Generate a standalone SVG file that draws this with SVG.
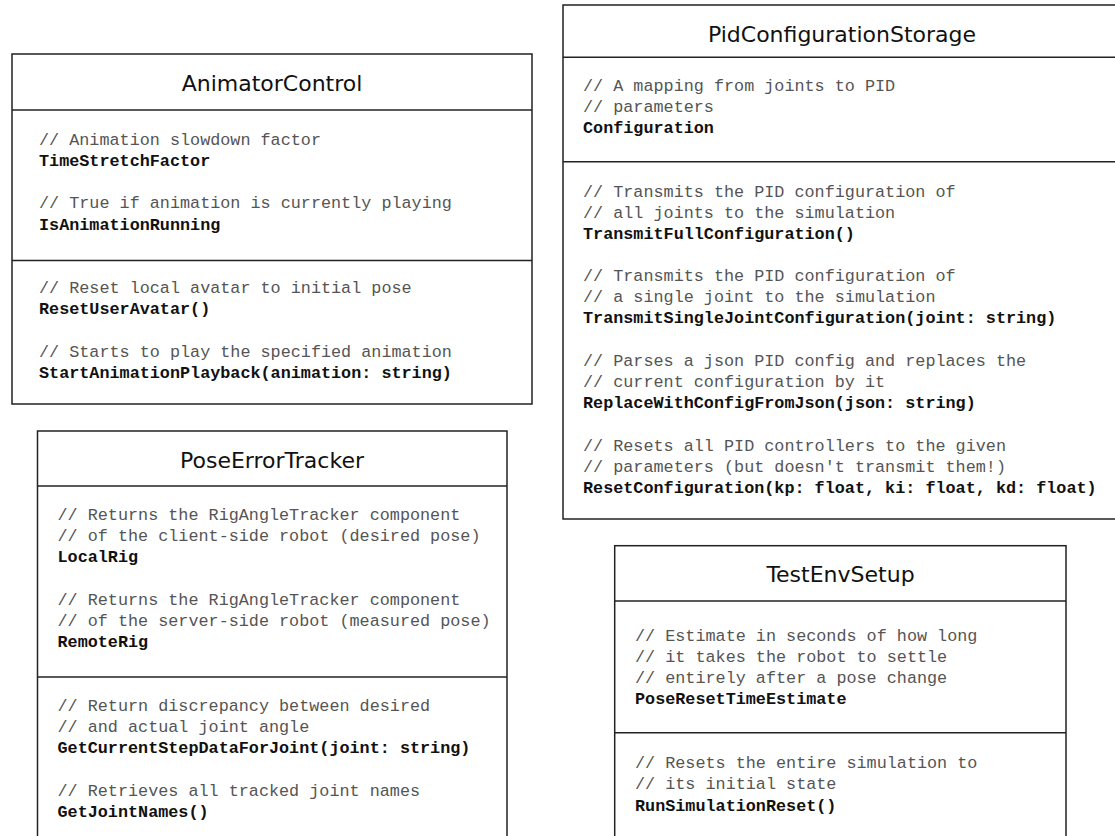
<svg xmlns="http://www.w3.org/2000/svg" width="1115" height="836" viewBox="0 0 1115 836">
<style>
.box{fill:#fff;stroke:#222;stroke-width:1.5}
.sep{stroke:#222;stroke-width:1.5}
.title{font-family:"DejaVu Sans",Verdana,sans-serif;font-size:22px;fill:#111;text-anchor:middle}
.c{font-family:"Liberation Mono","Courier New",monospace;font-size:16.8px;fill:#555}
.n{font-family:"Liberation Mono","Courier New",monospace;font-size:16.8px;font-weight:bold;fill:#111}
</style>
<rect width="1115" height="836" fill="#fff"/>
<g id="connectors"/>
<g id="AnimatorControl">
<rect class="box" x="12" y="54" width="520" height="350"/>
<line class="sep" x1="12" y1="110" x2="532" y2="110"/>
<line class="sep" x1="12" y1="260.5" x2="532" y2="260.5"/>
<text class="title" x="272" y="91">AnimatorControl</text>
<text class="c" x="39" y="145">// Animation slowdown factor</text>
<text class="n" x="39" y="166">TimeStretchFactor</text>
<text class="c" x="39" y="208">// True if animation is currently playing</text>
<text class="n" x="39" y="229.5">IsAnimationRunning</text>
<text class="c" x="39" y="293">// Reset local avatar to initial pose</text>
<text class="n" x="39" y="314">ResetUserAvatar()</text>
<text class="c" x="39" y="357">// Starts to play the specified animation</text>
<text class="n" x="39" y="378">StartAnimationPlayback(animation: string)</text>
</g>
<g id="PoseErrorTracker">
<rect class="box" x="37.5" y="431" width="469.5" height="420"/>
<line class="sep" x1="37.5" y1="486" x2="507" y2="486"/>
<line class="sep" x1="37.5" y1="677" x2="507" y2="677"/>
<text class="title" x="272" y="468">PoseErrorTracker</text>
<text class="c" x="57.5" y="520">// Returns the RigAngleTracker component</text>
<text class="c" x="57.5" y="541">// of the client-side robot (desired pose)</text>
<text class="n" x="57.5" y="562">LocalRig</text>
<text class="c" x="57.5" y="605">// Returns the RigAngleTracker component</text>
<text class="c" x="57.5" y="626">// of the server-side robot (measured pose)</text>
<text class="n" x="57.5" y="647">RemoteRig</text>
<text class="c" x="57.5" y="711">// Return discrepancy between desired</text>
<text class="c" x="57.5" y="732">// and actual joint angle</text>
<text class="n" x="57.5" y="753">GetCurrentStepDataForJoint(joint: string)</text>
<text class="c" x="57.5" y="796">// Retrieves all tracked joint names</text>
<text class="n" x="57.5" y="817">GetJointNames()</text>
</g>
<g id="PidConfigurationStorage">
<rect class="box" x="563" y="5" width="558" height="514"/>
<line class="sep" x1="563" y1="57.3" x2="1121" y2="57.3"/>
<line class="sep" x1="563" y1="161.7" x2="1121" y2="161.7"/>
<text class="title" x="842" y="42">PidConfigurationStorage</text>
<text class="c" x="583" y="91">// A mapping from joints to PID</text>
<text class="c" x="583" y="112">// parameters</text>
<text class="n" x="583" y="133">Configuration</text>
<text class="c" x="583" y="197">// Transmits the PID configuration of</text>
<text class="c" x="583" y="218">// all joints to the simulation</text>
<text class="n" x="583" y="239">TransmitFullConfiguration()</text>
<text class="c" x="583" y="281">// Transmits the PID configuration of</text>
<text class="c" x="583" y="302">// a single joint to the simulation</text>
<text class="n" x="583" y="323">TransmitSingleJointConfiguration(joint: string)</text>
<text class="c" x="583" y="366">// Parses a json PID config and replaces the</text>
<text class="c" x="583" y="387">// current configuration by it</text>
<text class="n" x="583" y="408">ReplaceWithConfigFromJson(json: string)</text>
<text class="c" x="583" y="451">// Resets all PID controllers to the given</text>
<text class="c" x="583" y="472">// parameters (but doesn't transmit them!)</text>
<text class="n" x="583" y="493">ResetConfiguration(kp: float, ki: float, kd: float)</text>
</g>
<g id="TestEnvSetup">
<rect class="box" x="614.7" y="545.7" width="451.3" height="305"/>
<line class="sep" x1="614.7" y1="601" x2="1066" y2="601"/>
<line class="sep" x1="614.7" y1="732.7" x2="1066" y2="732.7"/>
<text class="title" x="840.5" y="582">TestEnvSetup</text>
<text class="c" x="635" y="641">// Estimate in seconds of how long</text>
<text class="c" x="635" y="662">// it takes the robot to settle</text>
<text class="c" x="635" y="683">// entirely after a pose change</text>
<text class="n" x="635" y="704">PoseResetTimeEstimate</text>
<text class="c" x="635" y="768">// Resets the entire simulation to</text>
<text class="c" x="635" y="789">// its initial state</text>
<text class="n" x="635" y="810.5">RunSimulationReset()</text>
</g>
</svg>
